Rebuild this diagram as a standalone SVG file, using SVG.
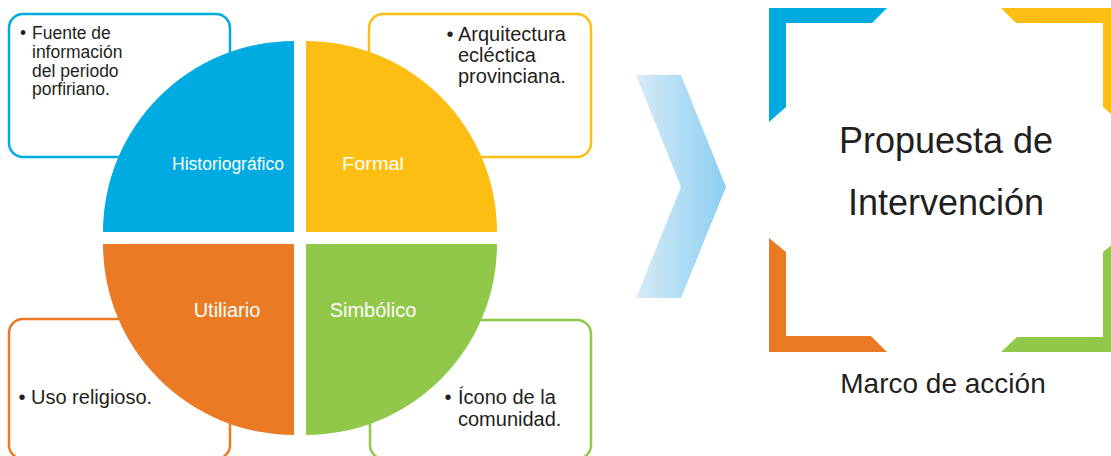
<svg xmlns="http://www.w3.org/2000/svg" width="1111" height="456" viewBox="0 0 1111 456">
<defs>
<style>
.box{fill:#fff;stroke-width:2.5}
.t{font-family:"Liberation Sans",Arial,sans-serif;fill:#231f20}
.w{font-family:"Liberation Sans",Arial,sans-serif;fill:#fff;text-anchor:middle}
.c{text-anchor:middle}
</style>
<linearGradient id="chev" x1="0" y1="0" x2="1" y2="0">
<stop offset="0" stop-color="#d7ebf8"/>
<stop offset="1" stop-color="#8ccff0"/>
</linearGradient>
</defs>
<rect width="1111" height="456" fill="#fff"/>

<g id="box-historiografico">
<rect class="box" x="9" y="14" width="221" height="143" rx="14" stroke="#00abe1"/>
<text class="t" font-size="17.5"><tspan x="23" y="39" class="c">•</tspan><tspan x="32" y="39">Fuente de</tspan><tspan x="32" y="58">información</tspan><tspan x="32" y="76.5">del periodo</tspan><tspan x="32" y="95">porfiriano.</tspan></text>
</g>
<g id="box-formal">
<rect class="box" x="369" y="14" width="222" height="143" rx="14" stroke="#fdbe14"/>
<text class="t" font-size="20"><tspan x="450" y="40.5" class="c">•</tspan><tspan x="458" y="40.5">Arquitectura</tspan><tspan x="458" y="62">ecléctica</tspan><tspan x="458" y="83">provinciana.</tspan></text>
</g>
<g id="box-utiliario">
<rect class="box" x="9" y="319" width="221" height="140" rx="14" stroke="#eb7a24"/>
<text class="t" font-size="20"><tspan x="22" y="404" class="c">•</tspan><tspan x="31" y="404">Uso religioso.</tspan></text>
</g>
<g id="box-simbolico">
<rect class="box" x="370" y="320" width="221" height="139" rx="14" stroke="#92c84a"/>
<text class="t" font-size="20"><tspan x="448" y="404" class="c">•</tspan><tspan x="458" y="404">Ícono de la</tspan><tspan x="458" y="426">comunidad.</tspan></text>
</g>

<g id="q-historiografico">
<path d="M294 232 H103 A191 191 0 0 1 294 41 Z" fill="#00abe1"/>
<text class="w" x="228" y="170" font-size="17.5">Historiográfico</text>
</g>
<g id="q-formal">
<path d="M306 232 V41 A191 191 0 0 1 497 232 Z" fill="#fdbe14"/>
<text class="w" x="373" y="170" font-size="18" textLength="62" lengthAdjust="spacingAndGlyphs">Formal</text>
</g>
<g id="q-utiliario">
<path d="M294 244 V435 A191 191 0 0 1 103 244 Z" fill="#eb7a24"/>
<text class="w" x="227" y="317" font-size="20">Utiliario</text>
</g>
<g id="q-simbolico">
<path d="M306 244 H497 A191 191 0 0 1 306 435 Z" fill="#92c84a"/>
<text class="w" x="373" y="317" font-size="20">Simbólico</text>
</g>

<g id="connectors">
<polygon points="636,75 681,75 726,187 681,298 636,298 681,187" fill="url(#chev)"/>
</g>

<g id="propuesta">
<polygon points="769,8 887,8 872,23 786,23 786,107 769,122" fill="#00abe1"/>
<polygon points="1001,8 1120,8 1120,122 1103,107 1103,23 1016,23" fill="#fdbe14"/>
<polygon points="769,238 786,252 786,336 871,336 887,352 769,352" fill="#eb7a24"/>
<polygon points="1001,352 1120,352 1120,238 1103,252 1103,337 1017,337" fill="#92c84a"/>
<text class="t c" x="946" y="153" font-size="36">Propuesta de</text>
<text class="t c" x="946" y="215" font-size="36">Intervención</text>
</g>
<g id="marco">
<text class="t c" x="943" y="393" font-size="28">Marco de acción</text>
</g>
</svg>
